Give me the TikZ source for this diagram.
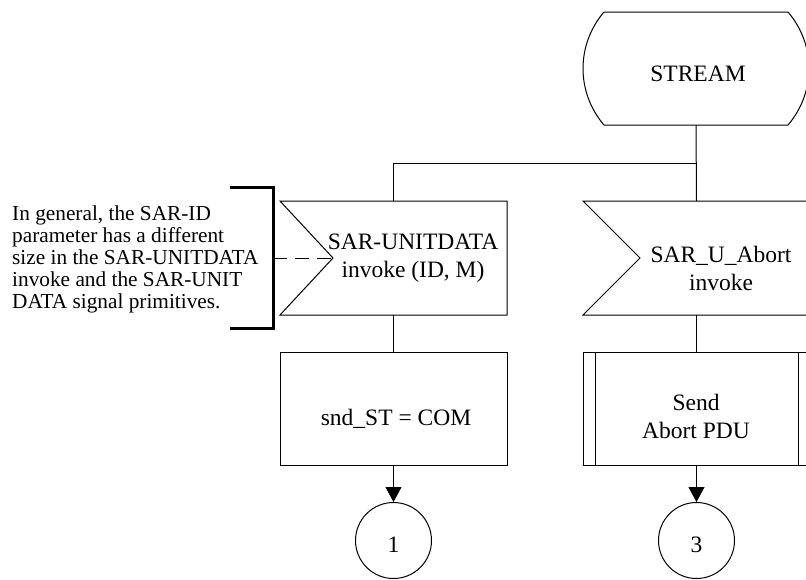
\documentclass[tikz,border=0pt]{standalone}
\usepackage{fontspec}
\setmainfont{Liberation Serif}
\usetikzlibrary{arrows.meta,calc}
\begin{document}
\begin{tikzpicture}[x=1pt,y=-1pt,
  line/.style={draw=black,line width=1pt},
  geom/.style={rectangle,draw=none,inner sep=0pt,outer sep=0pt},
  boxnode/.style={rectangle,draw=black,line width=1pt,inner sep=0pt,outer sep=0pt,minimum width=227pt,minimum height=113pt},
  lab/.style={inner sep=0pt,align=center,font=\fontsize{23.5}{28}\selectfont},
  conn/.style={inner sep=0pt,circle,draw=black,line width=1pt,minimum size=76pt,font=\fontsize{23.5}{28}\selectfont,text height=24pt,text depth=0pt},
  arr/.style={line,-{Triangle[length=15pt,width=16pt]}},
  bracket/.style={draw=black,line width=3pt},
  cmt/.style={inner sep=0pt,align=left,anchor=north west,font=\fontsize{21.3}{22}\selectfont}
]
\clip (0,0) rectangle (806,579);
% state
\node[geom,minimum width=184pt,minimum height=113pt] (stream) at (696,68.5) {};
\draw[line] (stream.north west) -- (stream.north east)
  .. controls +(13.5,15.7) and +(0,-20.7) .. ([xshift=21pt]stream.east)
  .. controls +(0,20.7) and +(13.5,-15.7) .. (stream.south east)
  -- (stream.south west)
  .. controls +(-13.5,-15.7) and +(0,20.7) .. ([xshift=-21pt]stream.west)
  .. controls +(0,-20.7) and +(-13.5,15.7) .. (stream.north west) -- cycle;
\node[lab] (streamt) at (698,74) {STREAM};
% inputs
\node[geom,minimum width=227pt,minimum height=114pt] (inL) at (393.5,258) {};
\draw[line] (inL.north west) -- (inL.north east) -- (inL.south east) -- (inL.south west) -- ([xshift=53pt]inL.west) -- cycle;
\node[lab] (inLt) at (413,258) {SAR-UNITDATA\\invoke (ID, M)};
\node[geom,minimum width=227pt,minimum height=114pt] (inR) at (696.5,258) {};
\draw[line] (inR.north west) -- (inR.north east) -- (inR.south east) -- (inR.south west) -- ([xshift=57pt]inR.west) -- cycle;
\node[lab] (inRt) at (721,268) {SAR\_U\_Abort\\invoke};
% branch
\coordinate (br) at (696.5,163);
\draw[line] (stream.south) -- (inR.north);
\draw[line] (inL.north) |- (br);
% task and procedure
\node[boxnode] (tL) at (393.5,408.5) {};
\node[lab] (tLt) at (396,419) {snd\_ST = COM};
\node[boxnode] (pR) at (696.5,408.5) {};
\draw[line] ([xshift=12pt]pR.north west) -- ([xshift=12pt]pR.south west);
\draw[line] ([xshift=-12pt]pR.north east) -- ([xshift=-12pt]pR.south east);
\node[lab] (pRt) at (696,416) {Send\\Abort PDU};
\draw[line] (inL.south) -- (tL.north);
\draw[line] (inR.south) -- (pR.north);
% connectors
\node[conn] (cL) at (393.5,540.5) {1};
\node[conn] (cR) at (696.5,540.5) {3};
\draw[arr] (tL.south) -- (cL.north);
\draw[arr] (pR.south) -- (cR.north);
% comment
\coordinate (bt) at (230,187);
\coordinate (bb) at (230,328);
\coordinate (cm) at (273,258);
\draw[bracket] (bt) -- ++(43,0) -- ++(0,141) -- (bb);
\draw[line,dash pattern=on 14pt off 8pt] (cm) -- ([xshift=53pt]inL.west);
\node[cmt] (cmt) at (12,206) {In general, the SAR-ID\\parameter has a different\\size in the SAR-UNITDATA\\invoke and the SAR-UNIT\\DATA signal primitives.};
\end{tikzpicture}
\end{document}
